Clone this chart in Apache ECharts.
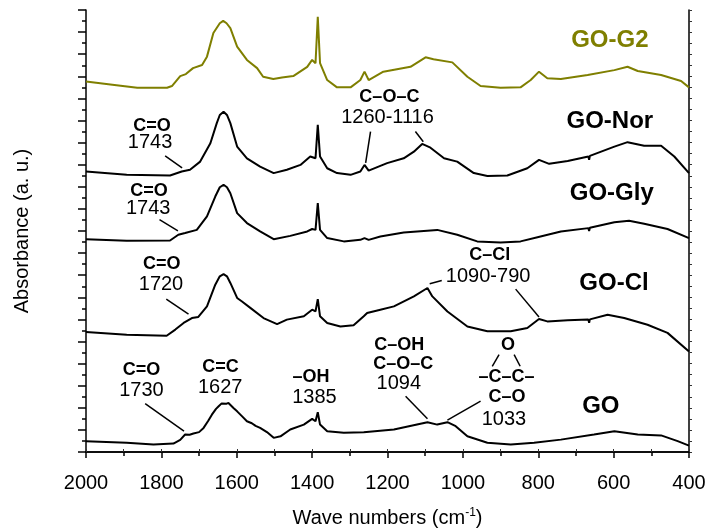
<!DOCTYPE html>
<html>
<head>
<meta charset="utf-8">
<script src="https://cdn.jsdelivr.net/npm/echarts@6/dist/echarts.min.js"></script>
<style>
  html, body { margin: 0; padding: 0; background: #fff; }
  #chart { width: 708px; height: 528px; }
</style>
</head>
<body>
<div id="chart"></div>
<script>
// FTIR spectra, stacked with vertical offsets: [wavenumber (cm-1), absorbance (a.u.)]
const spectrumGOG2 = [
  [2000,16.76],[1930,16.62],[1864,16.48],[1785,16.48],[1772,16.56],[1750,17.01],[1735,17.10],
  [1716,17.37],[1692,17.51],[1679,17.89],[1662,18.96],[1645,19.40],[1636,19.51],[1627,19.40],
  [1617,19.18],[1599,18.34],[1573,17.74],[1546,17.37],[1530,16.98],[1503,16.88],[1480,16.95],
  [1450,17.01],[1413,17.43],[1400,17.74],[1391,17.59],[1385,19.69],[1379,17.60],[1360,16.83],
  [1334,16.50],[1298,16.50],[1272,16.83],[1261,17.21],[1250,16.83],[1211,17.21],[1139,17.43],
  [1099,17.86],[1078,17.77],[1028,17.63],[988,16.98],[953,16.56],[900,16.48],[847,16.50],
  [820,16.83],[798,17.21],[776,16.91],[740,16.88],[669,17.06],[598,17.28],[563,17.43],
  [536,17.24],[474,17.06],[421,16.79],[400,16.50]
];
const spectrumGONor = [
  [2000,12.69],[1892,12.54],[1777,12.51],[1746,12.69],[1724,12.77],[1697,13.14],[1670,13.97],
  [1653,14.88],[1645,15.25],[1635,15.40],[1626,15.25],[1617,14.88],[1599,13.82],[1573,13.29],
  [1538,12.91],[1502,12.62],[1467,12.77],[1431,12.99],[1405,13.37],[1391,13.29],[1385,14.80],
  [1379,13.37],[1360,12.84],[1334,12.62],[1298,12.54],[1272,12.69],[1261,12.99],[1250,12.73],
  [1201,13.07],[1157,13.29],[1130,13.59],[1108,13.94],[1086,13.77],[1050,13.29],[1015,13.14],
  [971,12.62],[935,12.49],[882,12.51],[829,12.84],[798,13.22],[771,13.04],[722,13.17],
  [667,13.37],[665,13.22],[663,13.40],[598,13.82],[563,14.02],[519,13.86],[474,13.86],
  [439,13.37],[400,12.62]
];
const spectrumGOGly = [
  [2000,9.63],[1892,9.56],[1777,9.57],[1755,9.83],[1737,9.91],[1706,10.05],[1679,10.66],
  [1657,11.56],[1645,11.98],[1635,12.09],[1626,11.98],[1617,11.71],[1599,10.81],[1573,10.36],
  [1538,9.98],[1502,9.63],[1458,9.78],[1413,9.98],[1400,10.09],[1391,10.05],[1385,11.26],
  [1379,10.05],[1360,9.68],[1316,9.53],[1272,9.60],[1261,9.68],[1250,9.60],[1219,9.75],
  [1157,9.93],[1068,10.05],[1015,9.83],[962,9.53],[900,9.48],[847,9.53],[802,9.72],
  [740,9.98],[667,10.13],[665,10.00],[663,10.15],[598,10.40],[559,10.46],[519,10.33],
  [457,10.09],[400,9.68]
];
const spectrumGOCl = [
  [2000,5.43],[1892,5.31],[1786,5.26],[1763,5.54],[1741,5.84],[1719,6.06],[1702,6.11],
  [1679,6.59],[1657,7.57],[1645,7.95],[1635,8.05],[1626,7.95],[1617,7.65],[1599,6.97],
  [1586,6.81],[1564,6.52],[1529,6.06],[1493,5.79],[1467,5.99],[1422,6.14],[1400,6.44],
  [1391,6.36],[1385,6.92],[1379,6.14],[1360,5.84],[1325,5.68],[1290,5.73],[1263,6.14],
  [1254,6.29],[1219,6.44],[1183,6.59],[1130,7.04],[1094,7.42],[1081,7.04],[1041,6.36],
  [988,5.68],[935,5.46],[873,5.46],[829,5.61],[798,6.02],[776,5.91],[722,5.96],
  [667,5.99],[665,5.85],[663,6.00],[616,6.21],[572,6.06],[510,5.76],[457,5.39],[400,4.55]
];
const spectrumGO = [
  [2000,0.49],[1892,0.42],[1821,0.34],[1768,0.38],[1750,0.55],[1737,0.79],[1725,0.78],
  [1715,0.84],[1700,0.90],[1688,1.09],[1676,1.40],[1666,1.69],[1655,1.95],[1648,2.07],
  [1640,2.20],[1635,2.25],[1628,2.18],[1622,2.22],[1617,2.15],[1608,1.98],[1599,1.84],
  [1585,1.60],[1573,1.39],[1560,1.30],[1550,1.18],[1538,1.09],[1520,0.90],[1502,0.64],
  [1484,0.71],[1458,1.02],[1422,1.24],[1400,1.50],[1391,1.39],[1385,1.80],[1379,1.24],
  [1360,0.94],[1316,0.87],[1263,0.89],[1183,1.02],[1094,1.35],[1068,1.24],[1041,1.35],
  [1019,1.17],[988,0.71],[935,0.42],[873,0.34],[811,0.42],[740,0.56],[652,0.79],
  [598,0.94],[536,0.79],[474,0.75],[430,0.49],[400,0.29]
];

// Sample names: [wavenumber, absorbance, text, colour]
const sampleNames = [
  [610, 18.64, 'GO-G2', '#7f7f00'],
  [610, 14.95, 'GO-Nor', '#000'],
  [605, 11.68, 'GO-Gly', '#000'],
  [599, 7.65, 'GO-Cl', '#000'],
  [634, 2.07, 'GO', '#000']
];

// Band assignments: [wavenumber, absorbance, text, style] (b = group, n = position)
const bandNotes = [
  [1825, 14.75, 'C=O', 'b'], [1830, 13.99, '1743', 'n'],
  [1833, 11.82, 'C=O', 'b'], [1835, 11.00, '1743', 'n'],
  [1195, 16.06, 'C\u2013O\u2013C', 'b'], [1200, 15.14, '1260-1116', 'n'],
  [1799, 8.50, 'C=O', 'b'], [1801, 7.59, '1720', 'n'],
  [929, 8.91, 'C\u2013Cl', 'b'], [933, 7.94, '1090-790', 'n'],
  [1853, 3.73, 'C=O', 'b'], [1853, 2.79, '1730', 'n'],
  [1643, 3.86, 'C=C', 'b'], [1644, 2.90, '1627', 'n'],
  [1403, 3.41, '\u2013OH', 'b'], [1394, 2.47, '1385', 'n'],
  [1169, 4.82, 'C\u2013OH', 'b'], [1158, 3.99, 'C\u2013O\u2013C', 'b'], [1170, 3.09, '1094', 'n'],
  [880, 4.82, 'O', 'b'], [884, 3.39, '\u2013C\u2013C\u2013', 'b'], [883, 2.49, 'C\u2013O', 'b'],
  [891, 1.49, '1033', 'n']
];

// Leader lines and epoxide bonds: [w1, a1, w2, a2]
const leaderLines = [
  [1790, 13.40, 1745, 12.86],
  [1805, 10.51, 1756, 10.01],
  [1245, 14.50, 1258, 13.08],
  [1126, 14.50, 1105, 14.04],
  [1787, 6.92, 1728, 6.24],
  [1088, 7.61, 1056, 7.76],
  [860, 7.37, 798, 6.11],
  [1843, 2.19, 1740, 0.94],
  [1152, 2.52, 1094, 1.50],
  [953, 2.30, 1041, 1.44],
  [904, 4.41, 922, 3.88],
  [864, 4.41, 848, 3.88]
];

const FONT = 'Liberation Sans, Arial, sans-serif';
const OLIVE = '#7f7f00';

function spectrumSeries(data, color) {
  return {
    type: 'line', data: data, symbol: 'none', showSymbol: false,
    lineStyle: { color: color, width: 2 }, silent: true, z: 3
  };
}

const textStyles = {
  b: { fontSize: 18, fontWeight: 'bold' },
  n: { fontSize: 20, fontWeight: 'normal' }
};

const noteData = bandNotes.map(n => ({
  value: [n[0], n[1]],
  label: Object.assign({ formatter: n[2], color: '#000', textBorderWidth: 0 }, textStyles[n[3]])
})).concat(sampleNames.map(s => ({
  value: [s[0], s[1]],
  label: { formatter: s[2], fontSize: 24, fontWeight: 'bold', color: s[3], textBorderWidth: 0 }
})));

const chart = echarts.init(document.getElementById('chart'), null, { renderer: 'canvas' });

const tickLine = { color: '#000', width: 1.5 };

chart.setOption({
  animation: false,
  backgroundColor: '#fff',
  grid: { left: 86, right: 19, top: 10, bottom: 76, containLabel: false, outerBoundsMode: 'none' },
  xAxis: [
    {
      type: 'value', min: 400, max: 2000, interval: 200, inverse: true, position: 'bottom',
      axisLine: { show: true, lineStyle: tickLine },
      axisTick: { show: true, length: 6, lineStyle: tickLine },
      minorTick: { show: true, splitNumber: 2, length: 4, lineStyle: tickLine },
      splitLine: { show: false },
      axisLabel: {
        fontSize: 20, color: '#000', fontFamily: FONT, margin: 21,
        formatter: v => String(v)
      },
      name: 'Wave numbers (cm{sup|-1})',
      nameLocation: 'middle', nameGap: 55,
      nameTextStyle: {
        fontSize: 20, color: '#000', fontFamily: FONT,
        rich: { sup: { fontSize: 12, color: '#000', fontFamily: FONT, padding: [0, 0, 10, 0] } }
      }
    },
    {
      type: 'value', min: 400, max: 2000, interval: 200, inverse: true, position: 'top',
      axisLine: { show: true, lineStyle: tickLine },
      axisTick: { show: true, length: 3, lineStyle: { color: '#333', width: 1 } },
      minorTick: { show: true, splitNumber: 2, length: 3, lineStyle: { color: '#333', width: 1 } },
      splitLine: { show: false },
      axisLabel: { show: false }
    }
  ],
  yAxis: [
    {
      type: 'value', min: 0, max: 20, interval: 1, position: 'left',
      axisLine: { show: true, lineStyle: tickLine },
      axisTick: { show: true, length: 8, lineStyle: tickLine },
      minorTick: { show: true, splitNumber: 2, length: 4, lineStyle: tickLine },
      splitLine: { show: false },
      axisLabel: { show: false },
      name: 'Absorbance (a. u.)',
      nameLocation: 'middle', nameGap: 54,
      nameTextStyle: { fontSize: 20, color: '#000', fontFamily: FONT }
    },
    {
      type: 'value', min: 0, max: 20, interval: 1, position: 'right',
      axisLine: { show: true, lineStyle: tickLine },
      axisTick: { show: true, length: 3, lineStyle: { color: '#333', width: 1 } },
      minorTick: { show: true, splitNumber: 2, length: 3, lineStyle: { color: '#333', width: 1 } },
      splitLine: { show: false },
      axisLabel: { show: false }
    }
  ],
  series: [
    spectrumSeries(spectrumGO, '#000'),
    spectrumSeries(spectrumGOCl, '#000'),
    spectrumSeries(spectrumGOGly, '#000'),
    spectrumSeries(spectrumGONor, '#000'),
    spectrumSeries(spectrumGOG2, OLIVE),
    {
      type: 'scatter', data: noteData, symbolSize: 0, silent: true, z: 5,
      itemStyle: { opacity: 1 },
      label: {
        show: true, position: 'inside', align: 'center', verticalAlign: 'middle',
        color: '#000', fontFamily: FONT
      },
      emphasis: { disabled: true },
      markLine: {
        silent: true, symbol: ['none', 'none'], animation: false,
        label: { show: false },
        lineStyle: { color: '#000', width: 1.5, type: 'solid', opacity: 1 },
        emphasis: { disabled: true },
        data: leaderLines.map(l => [{ coord: [l[0], l[1]] }, { coord: [l[2], l[3]] }])
      }
    }
  ]
});
</script>
</body>
</html>
